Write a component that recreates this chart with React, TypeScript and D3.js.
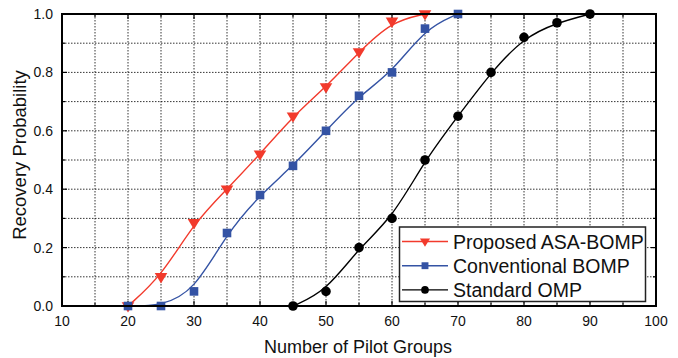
import React from "react";
import * as d3 from "d3";

const xs = [20, 25, 30, 35, 40, 45, 50, 55, 60, 65, 70, 75, 80, 85, 90];
const proposed = [0, 0.1, 0.285, 0.4, 0.52, 0.65, 0.75, 0.87, 0.975, 1.0];
const conventional = [0, 0, 0.05, 0.25, 0.38, 0.48, 0.6, 0.72, 0.8, 0.95, 1.0];
const standardX = [45, 50, 55, 60, 65, 70, 75, 80, 85, 90];
const standard = [0, 0.05, 0.2, 0.3, 0.5, 0.65, 0.8, 0.92, 0.97, 1.0];
const xTicks = [10, 20, 30, 40, 50, 60, 70, 80, 90, 100];
const yTicks = [0, 0.2, 0.4, 0.6, 0.8, 1.0];
const legendNames = ["Proposed ASA-BOMP", "Conventional BOMP", "Standard OMP"];

const W = 678;
const H = 358;
const m = { left: 62, top: 14, right: 656, bottom: 306 };
const font = "'Liberation Sans', Arial, sans-serif";

const RED = "#f23a2c";
const BLUE = "#3453a4";
const BLACK = "#000";

type Pt = [number, number];

const Marker = ({ kind, x, y, color, k = 1 }: { kind: string; x: number; y: number; color: string; k?: number }) => {
  if (kind === "tri") {
    const s = 6.3 * k;
    return <path d={`M${x - s},${y - s * 0.6}L${x + s},${y - s * 0.6}L${x},${y + s * 1.05}Z`} fill={color} />;
  }
  if (kind === "sq") {
    const s = 4.3 * k;
    return <rect x={x - s} y={y - s} width={2 * s} height={2 * s} fill={color} />;
  }
  return <circle cx={x} cy={y} r={4.8 * k} fill={color} />;
};

export default function App() {
  const x = d3.scaleLinear().domain([10, 100]).range([m.left, m.right]);
  const y = d3.scaleLinear().domain([0, 1]).range([m.bottom, m.top]);
  // B-spline smoothing, like the original plotting tool
  const line = d3
    .line<Pt>()
    .x((d) => x(d[0]))
    .y((d) => y(d[1]))
    .curve(d3.curveBasis);

  const series = [
    { name: legendNames[0], pts: proposed.map((v, i) => [xs[i], v] as Pt), color: RED, kind: "tri" },
    { name: legendNames[1], pts: conventional.map((v, i) => [xs[i], v] as Pt), color: BLUE, kind: "sq" },
    { name: legendNames[2], pts: standard.map((v, i) => [standardX[i], v] as Pt), color: BLACK, kind: "circ" },
  ];

  const xMinor = d3.range(15, 100, 5);
  const yMinor = d3.range(1, 10).map((v) => v / 10);

  const lg = { x: 399.5, y: 227, w: 246, h: 74.5 };

  return (
    <svg width={W} height={H} style={{ position: "absolute", left: 0, top: 0, background: "#fff" }}>
      {/* grid */}
      <g stroke="#000" strokeWidth={0.8} strokeDasharray="1.5,1.5">
        {xMinor.map((v) => (
          <line key={"gx" + v} x1={x(v)} x2={x(v)} y1={m.top} y2={m.bottom} />
        ))}
        {yMinor.map((v) => (
          <line key={"gy" + v} x1={m.left} x2={m.right} y1={y(v)} y2={y(v)} />
        ))}
      </g>

      {/* ticks */}
      <g stroke="#000" strokeWidth={1.2}>
        {d3.range(10, 101, 5).map((v) => {
          const len = v % 10 === 0 ? 5 : 3;
          return (
            <g key={"tx" + v}>
              <line x1={x(v)} x2={x(v)} y1={m.bottom} y2={m.bottom - len} />
              <line x1={x(v)} x2={x(v)} y1={m.top} y2={m.top + len} />
            </g>
          );
        })}
        {d3.range(0, 11).map((i) => {
          const v = i / 10;
          const len = i % 2 === 0 ? 5 : 3;
          return (
            <g key={"ty" + i}>
              <line x1={m.left} x2={m.left + len} y1={y(v)} y2={y(v)} />
              <line x1={m.right} x2={m.right - len} y1={y(v)} y2={y(v)} />
            </g>
          );
        })}
      </g>

      {/* curves */}
      {series.map((s) => (
        <g key={s.name}>
          <path d={line(s.pts) ?? ""} fill="none" stroke={s.color} strokeWidth={1.4} />
          {s.pts.map((p, i) => (
            <Marker key={i} kind={s.kind} x={x(p[0])} y={y(p[1])} color={s.color} />
          ))}
        </g>
      ))}

      {/* frame */}
      <rect x={m.left} y={m.top} width={m.right - m.left} height={m.bottom - m.top} fill="none" stroke="#000" strokeWidth={2} />

      {/* tick labels */}
      <g fontFamily={font} fontSize={14} fill="#111">
        {xTicks.map((v) => (
          <text key={"lx" + v} x={x(v)} y={326} textAnchor="middle">
            {v}
          </text>
        ))}
        {yTicks.map((v) => (
          <text key={"ly" + v} x={53} y={y(v) + 5} textAnchor="end">
            {v.toFixed(1)}
          </text>
        ))}
      </g>

      {/* axis titles */}
      <text x={358} y={353} textAnchor="middle" fontFamily={font} fontSize={18} fill="#111">
        Number of Pilot Groups
      </text>
      <text
        transform={`translate(26,155) rotate(-90)`}
        textAnchor="middle"
        fontFamily={font}
        fontSize={18.5}
        fill="#111"
      >
        Recovery Probability
      </text>

      {/* legend */}
      <rect x={lg.x} y={lg.y} width={lg.w} height={lg.h} fill="#fff" stroke="#222" strokeWidth={1.5} />
      {series.map((s, i) => {
        const cy = 241.5 + i * 24.2;
        return (
          <g key={"lg" + i}>
            <line x1={402} x2={448} y1={cy} y2={cy} stroke={s.color} strokeWidth={1.4} />
            <Marker kind={s.kind} x={425} y={cy} color={s.color} k={0.8} />
            <text x={453} y={cy + 7} fontFamily={font} fontSize={19.5} fill="#111">
              {s.name}
            </text>
          </g>
        );
      })}
    </svg>
  );
}
